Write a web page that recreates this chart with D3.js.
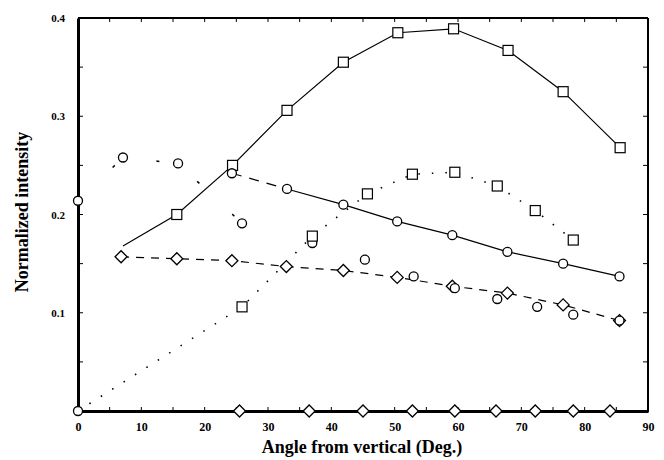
<!DOCTYPE html>
<html>
<head>
<meta charset="utf-8">
<script src="https://cdn.jsdelivr.net/npm/d3@7"></script>
<style>
  body { margin: 0; background: #fff; }
  text { font-family: "Liberation Serif", "DejaVu Serif", serif; font-weight: bold; fill: #000; }
</style>
</head>
<body>
<div id="chart"></div>
<script>
// data
var xTicks = [0, 10, 20, 30, 40, 50, 60, 70, 80, 90];
var yTicks = [0.1, 0.2, 0.3, 0.4];

// squares, solid line
var sqAngle = [7.1, 15.6, 24.4, 33, 41.9, 50.5, 59.3, 67.9, 76.6, 85.6];
var sqValue = [0.168, 0.200, 0.250, 0.306, 0.355, 0.385, 0.389, 0.367, 0.325, 0.268];

// circles, solid line
var ciAngle = [24.3, 33, 41.9, 50.4, 59.1, 67.8, 76.6, 85.5];
var ciValue = [0.242, 0.226, 0.210, 0.193, 0.179, 0.162, 0.150, 0.137];

// diamonds, dashed line
var diAngle = [6.8, 15.6, 24.3, 32.9, 41.9, 50.4, 59.1, 67.8, 76.6, 85.5];
var diValue = [0.157, 0.155, 0.153, 0.147, 0.143, 0.136, 0.127, 0.120, 0.108, 0.092];

// measured circles
var mcAngle = [0, 7.1, 15.8, 25.9, 37, 45.3, 53, 59.5, 66.2, 72.5, 78.2, 85.5];
var mcValue = [0.214, 0.258, 0.252, 0.191, 0.171, 0.154, 0.137, 0.125, 0.114, 0.106, 0.098, 0.092];

// measured squares, dotted line
var msAngle = [0, 25.9, 37, 45.7, 52.8, 59.5, 66.2, 72.2, 78.2];
var msValue = [0, 0.106, 0.178, 0.221, 0.241, 0.243, 0.229, 0.204, 0.174];

// diamonds along zero
var zdAngle = [25.5, 36.5, 45, 52.8, 59.5, 66, 72.2, 78.2, 84];
var zdValue = [0, 0, 0, 0, 0, 0, 0, 0, 0];

var W = 664, H = 460;
var svg = d3.select("#chart").append("svg")
    .attr("width", W).attr("height", H);

var x = d3.scaleLinear().domain([0, 90]).range([78, 648]);
var y = d3.scaleLinear().domain([0, 0.4]).range([411, 18]);

function pts(a, v) { return a.map(function(d, i) { return [d, v[i]]; }); }

var line = d3.line()
    .x(function(d) { return x(d[0]); })
    .y(function(d) { return y(d[1]); });

// frame
svg.append("line").attr("x1", x(0)).attr("x2", x(90)).attr("y1", y(0.4)).attr("y2", y(0.4))
    .attr("stroke", "#000").attr("stroke-width", 2);
svg.append("line").attr("x1", x(90)).attr("x2", x(90)).attr("y1", y(0.4)).attr("y2", y(0) + 1)
    .attr("stroke", "#000").attr("stroke-width", 2);

// axes
var xAxis = svg.append("g")
    .attr("transform", "translate(0," + y(0) + ")")
    .call(d3.axisBottom(x).tickValues(xTicks).tickSize(0).tickPadding(11).tickFormat(d3.format("d")));
xAxis.select(".domain").attr("stroke-width", 3);
xAxis.selectAll("text").style("font-size", "12px").style("font-family", "'Liberation Serif', serif");

var yAxis = svg.append("g")
    .attr("transform", "translate(" + x(0) + ",0)")
    .call(d3.axisLeft(y).tickValues(yTicks).tickSize(0).tickPadding(13).tickFormat(d3.format(".1f")));
yAxis.select(".domain").attr("stroke-width", 3);
yAxis.selectAll("text").style("font-size", "11px").style("font-family", "'Liberation Serif', serif");

// inward ticks
var minorX = d3.range(5, 90, 5);
svg.append("g").selectAll("line").data(minorX).enter().append("line")
    .attr("x1", function(d) { return x(d); }).attr("x2", function(d) { return x(d); })
    .attr("y1", y(0.4)).attr("y2", y(0.4) + 4)
    .attr("stroke", "#000").attr("stroke-width", 1);
svg.append("g").selectAll("line").data(minorX).enter().append("line")
    .attr("x1", function(d) { return x(d); }).attr("x2", function(d) { return x(d); })
    .attr("y1", y(0)).attr("y2", y(0) - 4)
    .attr("stroke", "#000").attr("stroke-width", 1);
var minorY = d3.range(0.05, 0.4, 0.05);
svg.append("g").selectAll("line").data(minorY).enter().append("line")
    .attr("x1", x(0)).attr("x2", x(0) + 5)
    .attr("y1", function(d) { return y(d); }).attr("y2", function(d) { return y(d); })
    .attr("stroke", "#000").attr("stroke-width", 1);
svg.append("g").selectAll("line").data(minorY).enter().append("line")
    .attr("x1", x(90)).attr("x2", x(90) - 5)
    .attr("y1", function(d) { return y(d); }).attr("y2", function(d) { return y(d); })
    .attr("stroke", "#000").attr("stroke-width", 1);

// lines
svg.append("path").datum(pts(sqAngle, sqValue)).attr("d", line)
    .attr("fill", "none").attr("stroke", "#000").attr("stroke-width", 1.2);
svg.append("path").datum(pts(ciAngle, ciValue).slice(0, 2)).attr("d", line)
    .attr("fill", "none").attr("stroke", "#000").attr("stroke-width", 1.2)
    .attr("stroke-dasharray", "10,8");
svg.append("path").datum(pts(ciAngle, ciValue).slice(1)).attr("d", line)
    .attr("fill", "none").attr("stroke", "#000").attr("stroke-width", 1.2);
svg.append("path").datum(pts(diAngle, diValue)).attr("d", line)
    .attr("fill", "none").attr("stroke", "#000").attr("stroke-width", 1.2)
    .attr("stroke-dasharray", "8,7");
svg.append("path").datum(pts(mcAngle, mcValue).slice(0, 4)).attr("d", line)
    .attr("fill", "none").attr("stroke", "#000").attr("stroke-width", 1.5)
    .attr("stroke-dasharray", "3,45");
svg.append("path").datum(pts(msAngle, msValue)).attr("d", line)
    .attr("fill", "none").attr("stroke", "#000").attr("stroke-width", 1.6)
    .attr("stroke-dasharray", "1.5,12");

// markers
function squares(a, v) {
  svg.append("g").selectAll("rect").data(pts(a, v)).enter().append("rect")
    .attr("x", function(d) { return x(d[0]) - 5; })
    .attr("y", function(d) { return y(d[1]) - 5; })
    .attr("width", 10).attr("height", 10)
    .attr("fill", "#fff").attr("stroke", "#000").attr("stroke-width", 1.2);
}
function circles(a, v) {
  svg.append("g").selectAll("circle").data(pts(a, v)).enter().append("circle")
    .attr("cx", function(d) { return x(d[0]); })
    .attr("cy", function(d) { return y(d[1]); })
    .attr("r", 4.5)
    .attr("fill", "#fff").attr("stroke", "#000").attr("stroke-width", 1.3);
}
function diamonds(a, v) {
  svg.append("g").selectAll("path").data(pts(a, v)).enter().append("path")
    .attr("d", function(d) {
      var cx = x(d[0]), cy = y(d[1]);
      return "M" + (cx - 6) + "," + cy + "L" + cx + "," + (cy - 6) +
             "L" + (cx + 6) + "," + cy + "L" + cx + "," + (cy + 6) + "Z";
    })
    .attr("fill", "#fff").attr("stroke", "#000").attr("stroke-width", 1.3);
}

squares(sqAngle.slice(1), sqValue.slice(1));
circles(ciAngle, ciValue);
diamonds(diAngle, diValue);
circles(mcAngle, mcValue);
squares(msAngle.slice(1), msValue.slice(1));
circles([msAngle[0]], [msValue[0]]);
diamonds(zdAngle, zdValue);

// axis titles
svg.append("text")
    .attr("x", 362).attr("y", 453)
    .attr("text-anchor", "middle")
    .style("font-size", "18px")
    .text("Angle from vertical (Deg.)");
svg.append("text")
    .attr("transform", "translate(28,212) rotate(-90)")
    .attr("text-anchor", "middle")
    .style("font-size", "18px")
    .text("Normalized intensity");
</script>
</body>
</html>
